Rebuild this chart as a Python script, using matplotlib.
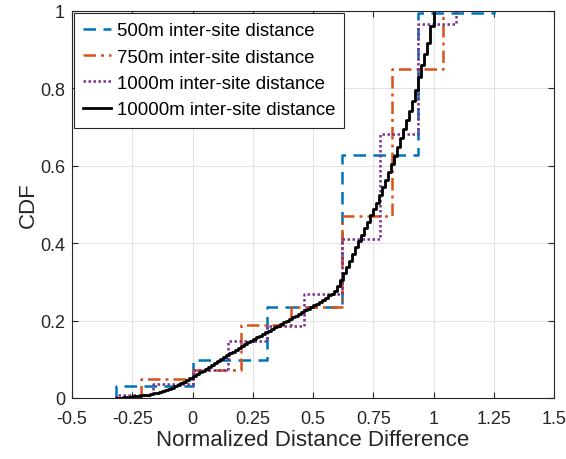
import numpy as np
import matplotlib
matplotlib.use("Agg")
import matplotlib.pyplot as plt

plt.rcParams['font.family'] = ['Liberation Sans', 'DejaVu Sans']

# ---- data (jump locations and CDF value after each jump) ----
labels = ["500m inter-site distance", "750m inter-site distance",
          "1000m inter-site distance", "10000m inter-site distance"]

x500 = [-0.317, 0.0, 0.31, 0.622, 0.935, 1.25]
y500 = [0.03, 0.099, 0.236, 0.628, 0.995, 1.0]

x750 = [-0.215, 0.0, 0.2, 0.41, 0.62, 0.829, 1.04]
y750 = [0.048, 0.072, 0.188, 0.234, 0.469, 0.85, 1.0]

x1000 = [-0.317, -0.163, 0.0, 0.149, 0.308, 0.464, 0.62, 0.776, 0.935, 1.092]
y1000 = [0.008, 0.036, 0.073, 0.146, 0.186, 0.268, 0.412, 0.682, 0.967, 1.0]

x10000 = [-0.3125, -0.3, -0.2875, -0.275, -0.2625, -0.25, -0.2375, -0.225, -0.2125, -0.2,
          -0.1875, -0.175, -0.1625, -0.15, -0.1375, -0.125, -0.1125, -0.1, -0.0875, -0.075,
          -0.0625, -0.05, -0.0375, -0.025, -0.0125, 0.0, 0.0125, 0.025, 0.0375, 0.05,
          0.0625, 0.075, 0.0875, 0.1, 0.1125, 0.125, 0.1375, 0.15, 0.1625, 0.175,
          0.1875, 0.2, 0.2125, 0.225, 0.2375, 0.25, 0.2625, 0.275, 0.2875, 0.3,
          0.3125, 0.325, 0.3375, 0.35, 0.3625, 0.375, 0.3875, 0.4, 0.4125, 0.425,
          0.4375, 0.45, 0.4625, 0.475, 0.4875, 0.5, 0.5125, 0.525, 0.5375, 0.55,
          0.5625, 0.575, 0.5875, 0.6, 0.6125, 0.625, 0.6375, 0.65, 0.6625, 0.675,
          0.6875, 0.7, 0.7125, 0.725, 0.7375, 0.75, 0.7625, 0.775, 0.7875, 0.8,
          0.8125, 0.825, 0.8375, 0.85, 0.8625, 0.875, 0.8875, 0.9, 0.9125, 0.925,
          0.9375, 0.95, 0.9625, 0.975, 0.9875, 1.0]
y10000 = [0.001, 0.001, 0.002, 0.002, 0.003, 0.004, 0.005, 0.006, 0.007, 0.008,
          0.009, 0.011, 0.012, 0.014, 0.016, 0.018, 0.021, 0.024, 0.027, 0.030,
          0.034, 0.038, 0.042, 0.047, 0.052, 0.057, 0.062, 0.067, 0.071, 0.076,
          0.081, 0.086, 0.090, 0.095, 0.100, 0.105, 0.110, 0.115, 0.120, 0.125,
          0.130, 0.135, 0.139, 0.144, 0.148, 0.153, 0.157, 0.161, 0.166, 0.170,
          0.174, 0.179, 0.183, 0.187, 0.192, 0.196, 0.200, 0.205, 0.209, 0.213,
          0.218, 0.222, 0.227, 0.231, 0.236, 0.240, 0.244, 0.248, 0.253, 0.259,
          0.265, 0.270, 0.277, 0.290, 0.305, 0.322, 0.338, 0.355, 0.373, 0.390,
          0.406, 0.422, 0.438, 0.455, 0.472, 0.489, 0.505, 0.524, 0.544, 0.564,
          0.584, 0.604, 0.626, 0.649, 0.672, 0.695, 0.718, 0.742, 0.768, 0.797,
          0.830, 0.860, 0.888, 0.918, 0.960, 1.000]

xticks = [-0.5, -0.25, 0, 0.25, 0.5, 0.75, 1, 1.25, 1.5]
xticklabels = ["-0.5", "-0.25", "0", "0.25", "0.5", "0.75", "1", "1.25", "1.5"]
yticks = [0, 0.2, 0.4, 0.6, 0.8, 1]
yticklabels = ["0", "0.2", "0.4", "0.6", "0.8", "1"]

# ---- figure ----
fig = plt.figure(figsize=(5.66, 4.60), dpi=100)
ax = fig.add_axes([72/566, 61/460, 482/566, 387/460])

def stairs(x, y, **kw):
    xs = np.r_[x[0], x]
    ys = np.r_[0.0, y]
    return ax.step(xs, ys, where='post', **kw)

stairs(x500, y500, color='#0072BD', linestyle=(0, (5, 3)), lw=1.8, label=labels[0])
stairs(x750, y750, color='#D95319', linestyle=(0, (5, 2, 1.2, 2)), lw=1.8, label=labels[1])
stairs(x1000, y1000, color='#7E2F8E', linestyle=(0, (1, 1)), lw=1.8, label=labels[2])
stairs(x10000, y10000, color='black', linestyle='-', lw=2.0, label=labels[3])

ax.set_xlim(-0.5, 1.5)
ax.set_ylim(0, 1)
ax.set_xticks(xticks)
ax.set_xticklabels(xticklabels)
ax.set_yticks(yticks)
ax.set_yticklabels(yticklabels)

ax.grid(True, color='#e3e3e3', linewidth=0.8)
ax.set_axisbelow(True)
for s in ax.spines.values():
    s.set_color('#262626')
    s.set_linewidth(0.8)
ax.tick_params(direction='in', length=4, width=0.8, colors='#262626',
               labelsize=13, top=True, right=True)
ax.tick_params(axis='x', pad=9)
ax.tick_params(axis='y', pad=5)

ax.set_xlabel("Normalized Distance Difference", fontsize=16, color='#262626', labelpad=1)
ax.set_ylabel("CDF", fontsize=16, color='#262626', labelpad=1)

leg = ax.legend(loc='upper left', fontsize=13.4, frameon=True, fancybox=False,
                borderaxespad=0.1, handlelength=1.5, handletextpad=0.3,
                labelspacing=0.5, borderpad=0.5)
leg.get_frame().set_edgecolor('#262626')
leg.get_frame().set_linewidth(0.8)
leg.get_frame().set_alpha(1.0)

fig.savefig("out.png", dpi=100)
